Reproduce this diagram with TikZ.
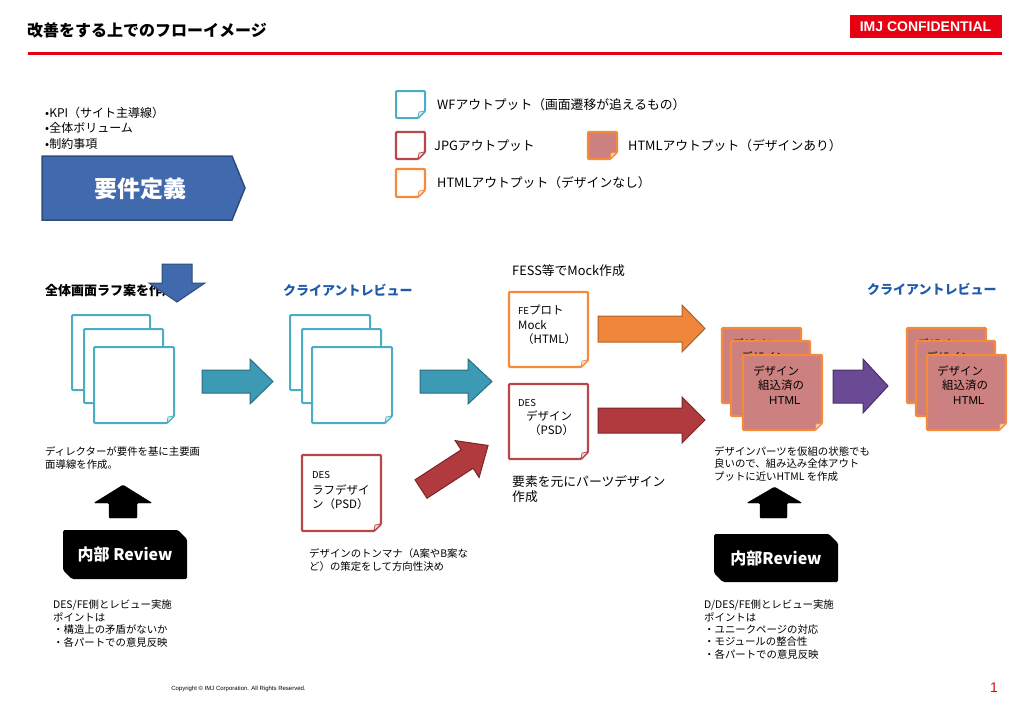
\documentclass[tikz,border=0pt]{standalone}
\usepackage{fontspec}
\setmainfont{Noto Sans CJK JP}
\newfontfamily\latfont{Liberation Sans}

\definecolor{wfline}{HTML}{4BACC6}
\definecolor{wfarrow}{HTML}{3C9AB4}
\definecolor{wfarrowline}{HTML}{2B6C80}
\definecolor{jpgline}{HTML}{B8474A}
\definecolor{jpgarrow}{HTML}{B03A3E}
\definecolor{jpgarrowline}{HTML}{7A2629}
\definecolor{htmlline}{HTML}{F58A3A}
\definecolor{htmlarrow}{HTML}{F0863A}
\definecolor{htmlarrowline}{HTML}{B0602A}
\definecolor{htmlfill}{HTML}{CC8080}
\definecolor{reqblue}{HTML}{4169AE}
\definecolor{reqline}{HTML}{2E4C7E}
\definecolor{revblue}{HTML}{1F5BAA}
\definecolor{purplearrow}{HTML}{6A4A94}
\definecolor{purpleline}{HTML}{46306A}
\definecolor{imjred}{HTML}{E60012}

% page with a folded bottom-right corner: style, fold colour, name, x1, y1, x2, y2
\newcommand\docpage[7]{%
  \draw[#1] (#4,#5) -- (#6,#5) -- (#6,#7-7) -- (#6-7,#7) -- (#4,#7) -- cycle;
  \draw[#1, fill=#2, line width=0.7pt, rounded corners=0pt] (#6,#7-7) -- (#6-6,#7-6) -- (#6-7,#7) -- cycle;
  \coordinate (#3) at ({(#4+#6)/2},{(#5+#7)/2});
}
% black label box with two cut corners: name, x1, y1, x2, y2, text
\newcommand\reviewbox[6]{%
  \fill[black, rounded corners=1.5pt] (#2,#3) -- (#4-9,#3) -- (#4,#3+9) -- (#4,#5) -- (#2+9,#5) -- (#2,#5-9) -- cycle;
  \node[revtext] (#1) at ({(#2+#4)/2},{(#3+#5)/2}) {#6};
}
% horizontal block arrow: style, x1, x2, head x, shaft top, shaft bottom, head top, head bottom
\newcommand\blockarrow[8]{%
  \draw[#1] (#2,#5) -- (#4,#5) -- (#4,#7) -- (#3,{(#7+#8)/2}) -- (#4,#8) -- (#4,#6) -- (#2,#6) -- cycle;
}

\begin{document}
\begin{tikzpicture}[x=1pt,y=-1pt,
  txt/.style={anchor=west, inner sep=0, align=left},
  small/.style={txt, font=\fontsize{10.4}{12.4}\selectfont},
  mid/.style={txt, font=\fontsize{12.8}{15.5}\selectfont},
  head/.style={txt, font=\bfseries\fontsize{13}{13}\selectfont},
  pagetxt/.style={txt, font=\fontsize{11.5}{14.5}\selectfont},
  wfpage/.style={draw=wfline, line width=2pt, fill=white, rounded corners=1pt},
  jpgpage/.style={draw=jpgline, line width=2.2pt, fill=white, rounded corners=1pt},
  htmlpage/.style={draw=htmlline, line width=2.2pt, fill=white, rounded corners=1pt},
  designpage/.style={draw=htmlline, line width=2.4pt, fill=htmlfill, rounded corners=1pt},
  wfblock/.style={fill=wfarrow, draw=wfarrowline, line width=1pt},
  jpgblock/.style={fill=jpgarrow, draw=jpgarrowline, line width=1pt},
  htmlblock/.style={fill=htmlarrow, draw=htmlarrowline, line width=1pt},
  purpleblock/.style={fill=purplearrow, draw=purpleline, line width=1pt},
  revtext/.style={text=white, font=\bfseries\fontsize{16}{16}\selectfont, inner sep=0}
]
\useasboundingbox (0,0) rectangle (1018,705);

% header
\node[txt, font=\bfseries\fontsize{16}{16}\selectfont] (title) at (27,30) {改善をする上でのフローイメージ};
\draw[imjred, line width=3pt] (28,53) -- (1002,53);
\node[fill=imjred, text=white, font=\latfont\bfseries\fontsize{14}{14}\selectfont,
      minimum width=152, minimum height=23, inner sep=0] (badge) at (925.5,26.5) {IMJ CONFIDENTIAL};

% requirements
\node[txt, font=\fontsize{12}{15.5}\selectfont] (reqnotes) at (45,128) {•KPI（サイト主導線）\\•全体ボリューム\\•制約事項};
\draw[fill=reqblue, draw=reqline, line width=1.5pt] (42,156) -- (232,156) -- (245,188) -- (232,220) -- (42,220) -- cycle;
\node[text=white, font=\bfseries\fontsize{23}{23}\selectfont] (req) at (140,189) {要件定義};

% legend
\docpage{wfpage}{wfline!25}{lgwf}{396}{91}{425}{118}
\node[mid] (lgwftxt) at (437,105) {WFアウトプット（画面遷移が追えるもの）};
\docpage{jpgpage}{jpgline!25}{lgjpg}{396}{132}{425}{159}
\node[mid] (lgjpgtxt) at (434,146) {JPGアウトプット};
\docpage{designpage}{htmlline!40}{lgdes}{588}{132}{617}{159}
\node[mid] (lgdestxt) at (628,146) {HTMLアウトプット（デザインあり）};
\docpage{htmlpage}{htmlline!25}{lghtml}{396}{169}{425}{197}
\node[mid] (lghtmltxt) at (437,183) {HTMLアウトプット（デザインなし）};

% step 1: wireframes
\node[head] (roughtitle) at (45,291) {全体画面ラフ案を作成};
\draw[fill=reqblue, draw=reqline, line width=1pt] (162,264) -- (192,264) -- (192,283) -- (205,283) -- (177,302) -- (149,283) -- (162,283) -- cycle;
\docpage{wfpage}{wfline!25}{wfa1}{72}{315}{150}{390}
\docpage{wfpage}{wfline!25}{wfa2}{84}{329}{163}{403}
\docpage{wfpage}{wfline!25}{wfa3}{94}{347}{174}{423}
\node[small] (roughnote) at (45,458) {ディレクターが要件を基に主要画\\面導線を作成。};

\blockarrow{wfblock}{202}{273}{250}{370}{393}{359}{404}

% step 2: client review of wireframes
\node[head, text=revblue] (review1) at (283,290) {クライアントレビュー};
\docpage{wfpage}{wfline!25}{wfb1}{290}{315}{370}{390}
\docpage{wfpage}{wfline!25}{wfb2}{302}{329}{381}{403}
\docpage{wfpage}{wfline!25}{wfb3}{312}{347}{392}{423}

\blockarrow{wfblock}{420}{492}{468}{370}{393}{359}{404}

% internal review 1
\draw[fill=black, rounded corners=1pt] (109,518) -- (109,503) -- (94,503) -- (123,485) -- (152,503) -- (137,503) -- (137,518) -- cycle;
\reviewbox{rev1}{63}{530}{187}{579}{内部 Review}
\node[small] (rev1note) at (53,623.5) {DES/FE側とレビュー実施\\ポイントは\\・構造上の矛盾がないか\\・各パートでの意見反映};

% rough design
\docpage{jpgpage}{jpgline!25}{rough}{302}{455}{381}{531}
\node[txt, font=\fontsize{9.5}{9.5}\selectfont] (roughdes) at (312,475) {DES};
\node[pagetxt] (roughname) at (312,497) {ラフデザイ\\ン（PSD）};
\node[small] (roughdesnote) at (309,560) {デザインのトンマナ（A案やB案な\\ど）の策定をして方向性決め};

\begin{scope}[shift={(421,489)}, rotate=33]
  \draw[jpgblock] (0,-11) -- (55,-11) -- (55,-22) -- (80,0) -- (55,22) -- (55,11) -- (0,11) -- cycle;
\end{scope}

% step 3: mock and parts design
\node[mid] (fess) at (512,271) {FESS等でMock作成};
\docpage{htmlpage}{htmlline!25}{mock}{509}{292}{588}{367}
\node[pagetxt] (mocktxt) at (518,325) {{\fontsize{9.5}{9.5}\selectfont FE}プロト\\Mock\\\hspace{4pt}（HTML）};
\docpage{jpgpage}{jpgline!25}{parts}{509}{384}{588}{459}
\node[txt, font=\fontsize{9.5}{9.5}\selectfont] (partsdes) at (518,403) {DES};
\node[pagetxt] (partstxt) at (526,423) {デザイン\\\hspace{3pt}（PSD）};
\node[mid] (partsnote) at (512,489) {要素を元にパーツデザイン\\作成};

\blockarrow{htmlblock}{598}{705}{682}{316}{342}{305}{352}
\blockarrow{jpgblock}{598}{705}{682}{408}{433}{397}{443}

% step 4: assembled HTML
\foreach \n/\x/\y in {1/722/328, 2/731/341, 3/743/355} {
  \docpage{designpage}{htmlline!40}{dsa\n}{\x}{\y}{\x+79}{\y+75}
  \node[pagetxt, anchor=north west] (dsa\n txt) at (\x+10,\y+10) {デザイン\\\hspace{5pt}組込済の\\\hspace{16pt}{\latfont HTML}};
}
\node[small] (assemblenote) at (714,464) {デザインパーツを仮組の状態でも\\良いので、組み込み全体アウト\\プットに近いHTML を作成};

\blockarrow{purpleblock}{833}{888}{863}{370}{403}{359}{413}

% step 5: client review of HTML
\node[head, text=revblue] (review2) at (867,289) {クライアントレビュー};
\foreach \n/\x/\y in {1/907/328, 2/916/341, 3/927/355} {
  \docpage{designpage}{htmlline!40}{dsb\n}{\x}{\y}{\x+79}{\y+75}
  \node[pagetxt, anchor=north west] (dsb\n txt) at (\x+10,\y+10) {デザイン\\\hspace{5pt}組込済の\\\hspace{16pt}{\latfont HTML}};
}

% internal review 2
\draw[fill=black, rounded corners=1pt] (760,518) -- (760,503) -- (747,503) -- (774.5,487) -- (802,503) -- (787,503) -- (787,518) -- cycle;
\reviewbox{rev2}{714}{534}{838}{582}{内部Review}
\node[small] (rev2note) at (704,629.5) {D/DES/FE側とレビュー実施\\ポイントは\\・ユニークページの対応\\・モジュールの整合性\\・各パートでの意見反映};

% footer
\node[font=\latfont\fontsize{6}{6}\selectfont, inner sep=0] (copy) at (238.5,689) {Copyright © IMJ Corporation. All Rights Reserved.};
\node[text=imjred, font=\latfont\fontsize{14}{14}\selectfont, inner sep=0] (pageno) at (994,688) {1};
\end{tikzpicture}
\end{document}
